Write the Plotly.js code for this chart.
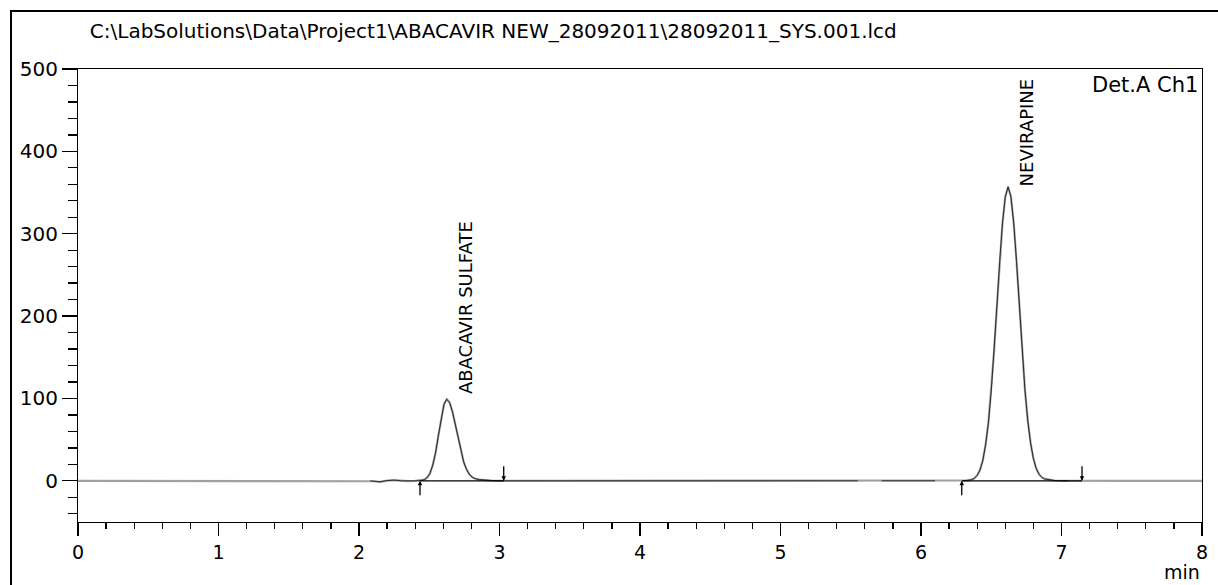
<!DOCTYPE html>
<html>
<head>
<meta charset="utf-8">
<script src="https://cdn.plot.ly/plotly-3.0.1.min.js"></script>
<style>
  html, body { margin: 0; padding: 0; background: #fff; overflow: hidden; }
  #chart { width: 1218px; height: 585px; }
  #frame { position: absolute; left: 10px; top: 10px; width: 1400px; height: 800px;
           border: 2px solid #000; pointer-events: none; }
</style>
</head>
<body>
<div id="chart"></div>
<div id="frame"></div>
<script>
// Retention time (min) and detector signal (mV)
const time = [
  0, 1, 2.0, 2.08, 2.10, 2.15, 2.20, 2.25, 2.30, 2.35, 2.40, 2.445, 2.465, 2.485, 2.505,
  2.525, 2.545, 2.565, 2.585, 2.605, 2.625, 2.645, 2.665, 2.685, 2.705, 2.725, 2.745,
  2.765, 2.785, 2.805, 2.825, 2.855, 2.895, 2.945, 3.025, 3.5, 4, 4.5, 5, 5.5, 5.55,
  5.72, 6.0, 6.1, 6.2, 6.30, 6.34, 6.36, 6.38, 6.40, 6.42, 6.44, 6.46, 6.48, 6.50,
  6.52, 6.54, 6.56, 6.58, 6.60, 6.62, 6.64, 6.66, 6.68, 6.70, 6.72, 6.74, 6.76, 6.78,
  6.80, 6.82, 6.84, 6.86, 6.88, 6.91, 6.95, 7.00, 7.05, 7.2, 7.5, 8
];
const signal = [
  0, 0, 0, 0, -0.5, -1.2, 0.3, 0.8, 0, -0.3, 0, 0.5, 1.4, 3.9, 9,
  19, 34, 55, 76, 93, 99, 95, 84, 69, 52, 36, 23,
  14, 8, 4.5, 2.8, 1.5, 0.7, 0.3, 0, 0, 0, 0, 0, 0, 0,
  0, 0, 0, 0, 0, 0.6, 1.4, 3.1, 6.7, 13, 25, 44, 71, 109,
  157, 211, 266, 313, 345, 357, 345, 313, 266, 211, 157, 110, 73, 46,
  27, 15, 8, 4.2, 2.3, 1.1, 0.4, 0.1, 0, 0, 0, 0
];
// Time windows where the trace is drawn dark in the original
const darkStart = [2.08, 5.72, 6.29];
const darkEnd   = [5.55, 6.10, 7.15];

// Peak table
const peakNames  = ['ABACAVIR SULFATE', 'NEVIRAPINE'];
const peakTime   = [2.625, 6.62];
const peakHeight = [99, 357];
const peakStart  = [2.434, 6.29];
const peakEnd    = [3.03, 7.146];

const titleText = 'C:\\LabSolutions\\Data\\Project1\\ABACAVIR NEW_28092011\\28092011_SYS.001.lcd';

const FONT = 'DejaVu Sans, Verdana, sans-serif';

// dark overlay built from the same data
const dx = [], dy = [];
for (let k = 0; k < darkStart.length; k++) {
  for (let i = 0; i < time.length; i++) {
    if (time[i] >= darkStart[k] && time[i] <= darkEnd[k]) { dx.push(time[i]); dy.push(signal[i]); }
  }
  dx.push(null); dy.push(null);
}
// integration baselines
const bx = [], by = [];
for (let k = 0; k < peakStart.length; k++) {
  bx.push(peakStart[k], peakEnd[k], null);
  by.push(0, 0, null);
}

const traces = [
  { x: time, y: signal, mode: 'lines', line: { color: '#a0a0a0', width: 2.2 }, hoverinfo: 'skip' },
  { x: dx, y: dy, mode: 'lines', line: { color: '#2a2a2a', width: 1 }, hoverinfo: 'skip', connectgaps: false },
  { x: bx, y: by, mode: 'lines', line: { color: '#000', width: 1.3 }, hoverinfo: 'skip', connectgaps: false }
];

const annotations = [];
for (let k = 0; k < peakNames.length; k++) {
  annotations.push({
    x: peakTime[k], y: peakHeight[k], xref: 'x', yref: 'y',
    text: peakNames[k], textangle: -90, showarrow: false,
    xanchor: 'left', yanchor: 'bottom', xshift: 6, yshift: k === 0 ? 3 : -2,
    font: { family: FONT, size: 18, color: '#000' }
  });
  annotations.push({
    x: peakStart[k], y: 0, xref: 'x', yref: 'y', ax: 0, ay: 16, text: '',
    showarrow: true, arrowhead: 2, arrowsize: 0.7, arrowwidth: 1.3, arrowcolor: '#000', standoff: 0
  });
  annotations.push({
    x: peakEnd[k], y: 0, xref: 'x', yref: 'y', ax: 0, ay: -16, text: '',
    showarrow: true, arrowhead: 2, arrowsize: 0.7, arrowwidth: 1.3, arrowcolor: '#000', standoff: 0
  });
}
annotations.push({
  x: 1, y: 1, xref: 'paper', yref: 'paper', xanchor: 'right', yanchor: 'top',
  xshift: -2, yshift: -2, text: 'Det.A Ch1', showarrow: false,
  font: { family: FONT, size: 21, color: '#000' }
});
annotations.push({
  x: 1, y: 0, xref: 'paper', yref: 'paper', xanchor: 'right', yanchor: 'top',
  xshift: 0, yshift: -37, text: 'min', showarrow: false,
  font: { family: FONT, size: 19, color: '#000' }
});

const layout = {
  width: 1218, height: 585,
  margin: { l: 78, r: 16, t: 69, b: 63 },
  paper_bgcolor: '#fff', plot_bgcolor: '#fff',
  showlegend: false,
  font: { family: FONT, size: 18, color: '#000' },
  title: {
    text: titleText, xref: 'container', yref: 'container',
    x: 0.405, xanchor: 'center', y: 1 - 31 / 585, yanchor: 'middle',
    font: { family: FONT, size: 20, color: '#000' }
  },
  xaxis: {
    range: [0, 8], dtick: 1, tick0: 0, showgrid: false, zeroline: false,
    showline: true, linecolor: '#000', linewidth: 1, mirror: true,
    ticks: 'outside', ticklen: 13, tickwidth: 1.3, tickcolor: '#000',
    minor: { dtick: 0.2, ticks: 'outside', ticklen: 6, tickwidth: 1.3, tickcolor: '#000', showgrid: false },
    tickfont: { family: FONT, size: 19, color: '#000' }, fixedrange: true
  },
  yaxis: {
    range: [-50, 500], dtick: 100, tick0: 0, showgrid: false, zeroline: false,
    showline: true, linecolor: '#000', linewidth: 1, mirror: true,
    ticks: 'outside', ticklen: 15, tickwidth: 1.3, tickcolor: '#000',
    minor: { dtick: 20, ticks: 'outside', ticklen: 9, tickwidth: 1.3, tickcolor: '#000', showgrid: false },
    tickfont: { family: FONT, size: 20, color: '#000' }, fixedrange: true
  },
  annotations: annotations
};

Plotly.newPlot('chart', traces, layout, { displayModeBar: false, staticPlot: true });
</script>
</body>
</html>
